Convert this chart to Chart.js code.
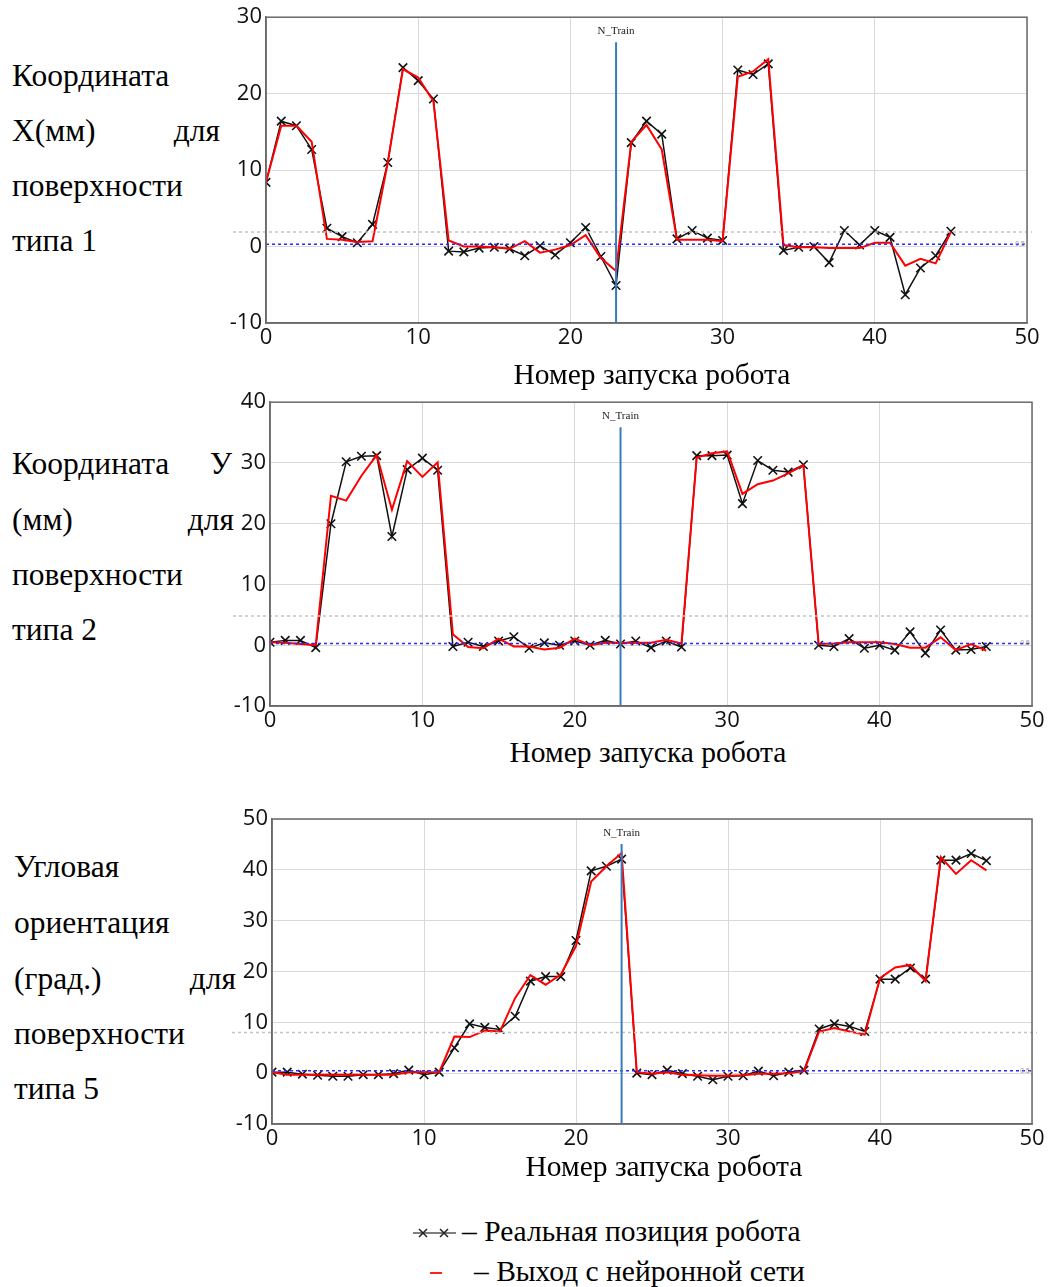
<!DOCTYPE html>
<html>
<head>
<meta charset="utf-8">
<script src="https://cdn.jsdelivr.net/npm/chart.js@4.4.1/dist/chart.umd.min.js"></script>
<style>
	body { margin:0; background:#fff; width:1057px; height:1287px; position:relative; overflow:hidden; }
	.txt { position:absolute; font-family:"Liberation Serif","Times New Roman",serif; font-size:29.5px; line-height:30px; color:#000; white-space:nowrap; }
	.lbl { font-size:31.5px; line-height:32px; }
	.just { display:flex; justify-content:space-between; }
	.ttl { text-align:center; width:400px; }
	canvas { position:absolute; }
</style>
</head>
<body>

<div class="txt lbl" style="left:12px;top:60px;">Координата</div>
<div class="txt lbl just" style="left:12px;top:115px;width:208px;"><span>X(мм)</span><span>для</span></div>
<div class="txt lbl" style="left:12px;top:170px;">поверхности</div>
<div class="txt lbl" style="left:12px;top:225px;">типа 1</div>

<div class="txt lbl just" style="left:12px;top:448px;width:220px;"><span>Координата</span><span>У</span></div>
<div class="txt lbl just" style="left:12px;top:504px;width:222px;"><span>(мм)</span><span>для</span></div>
<div class="txt lbl" style="left:12px;top:559px;">поверхности</div>
<div class="txt lbl" style="left:12px;top:614px;">типа 2</div>

<div class="txt lbl" style="left:14px;top:851px;">Угловая</div>
<div class="txt lbl" style="left:14px;top:907px;">ориентация</div>
<div class="txt lbl just" style="left:14px;top:963px;width:222px;"><span>(град.)</span><span>для</span></div>
<div class="txt lbl" style="left:14px;top:1018px;">поверхности</div>
<div class="txt lbl" style="left:14px;top:1073px;">типа 5</div>

<canvas id="chart1" style="left:216px;top:0px;" width="841" height="353"></canvas>
<canvas id="chart2" style="left:220px;top:385px;" width="837" height="351"></canvas>
<canvas id="chart3" style="left:222px;top:800px;" width="835" height="354"></canvas>

<div class="txt ttl" style="left:452px;top:359px;">Номер запуска робота</div>
<div class="txt ttl" style="left:448px;top:737px;">Номер запуска робота</div>
<div class="txt ttl" style="left:464px;top:1151px;">Номер запуска робота</div>

<svg style="position:absolute;left:410px;top:1224px;" width="50" height="18">
	<line x1="3" y1="9" x2="46" y2="9" stroke="#555" stroke-width="1.5"/>
	<path d="M9 5 L17 13 M17 5 L9 13 M30 5 L38 13 M38 5 L30 13" stroke="#222" stroke-width="1.5"/>
</svg>
<div class="txt" style="left:462px;top:1216px;">– Реальная позиция робота</div>
<svg style="position:absolute;left:426px;top:1264px;" width="20" height="18">
	<line x1="4" y1="9" x2="16" y2="9" stroke="#ff2020" stroke-width="2"/>
</svg>
<div class="txt" style="left:474px;top:1256px;">– Выход с нейронной сети</div>

<script>

// номер запуска, после которого начинается проверка
var nTrain = 23;

// координата X, поверхность типа 1
var realX = [8.4, 16.4, 15.8, 12.7, 2.4, 1.3, 0.5, 2.9, 11.0, 23.4, 21.7, 19.3, -0.6, -0.7, -0.2, -0.1, -0.3, -1.2, 0.1, -1.1, 0.5, 2.5, -1.3, -5.1,
	13.6, 16.4, 14.7, 1.0, 2.1, 1.1, 0.8, 23.1, 22.5, 23.9, -0.5, -0.1, 0.0, -2.1, 2.1, 0.2, 2.1, 1.2, -6.3, -2.8, -1.2, 2.0];
var netX = [8.4, 15.8, 15.8, 13.7, 1.0, 0.9, 0.6, 0.7, 11.0, 23.2, 22.1, 19.0, 0.8, 0.0, 0.0, -0.1, -0.3, 0.7, -0.8, -0.4, 0.2, 1.5, -1.5, -3.2,
	13.7, 15.9, 12.7, 0.9, 0.9, 0.9, 0.7, 22.2, 22.9, 24.5, 0.2, -0.1, -0.1, -0.2, -0.2, -0.2, 0.5, 0.5, -2.5, -1.6, -2.2, 1.9];

// координата У, поверхность типа 2
var realY = [0.5, 0.8, 0.8, -0.4, 20.0, 30.2, 31.1, 31.2, 17.9, 28.9, 30.8, 28.8, -0.2, 0.5, -0.2, 0.7, 1.4, -0.5, 0.4, 0.0, 0.7, 0.0, 0.8, 0.2,
	0.7, -0.4, 0.7, -0.3, 31.2, 31.2, 31.3, 23.3, 30.4, 28.8, 28.5, 29.7, 0.0, -0.2, 1.1, -0.5, 0.0, -0.8, 2.2, -1.3, 2.5, -0.8, -0.7, -0.2];
var netY = [0.5, 0.4, 0.2, 0.0, 24.6, 23.8, 27.9, 31.3, 22.3, 30.3, 27.7, 30.1, 1.8, -0.3, -0.5, 1.1, -0.2, -0.2, -0.7, -0.4, 1.1, 0.0, 0.4, 0.4,
	0.4, 0.4, 0.9, 0.3, 30.9, 31.6, 31.9, 24.9, 26.5, 27.1, 28.3, 29.6, 0.2, 0.3, 0.5, 0.5, 0.5, 0.2, -0.4, -0.4, 1.3, -0.8, 0.2, -0.9];

// угловая ориентация, поверхность типа 5
var realA = [0.2, 0.2, -0.2, -0.4, -0.6, -0.6, -0.3, -0.3, -0.1, 0.6, -0.3, 0.2, 5.0, 9.7, 9.0, 8.6, 11.2, 18.1, 19.0, 19.0, 26.1, 39.8, 40.7, 42.1,
	0.0, -0.3, 0.6, -0.1, -0.6, -1.3, -0.6, -0.5, 0.4, -0.5, 0.2, 0.6, 8.7, 9.7, 9.2, 8.2, 18.5, 18.5, 20.7, 18.5, 41.9, 41.9, 43.2, 41.8];
var netA = [0.2, -0.3, -0.3, -0.3, -0.3, -0.3, -0.3, -0.3, -0.3, 0.2, 0.2, 0.2, 7.2, 7.1, 8.4, 8.2, 14.8, 19.3, 17.4, 19.4, 25.0, 37.7, 40.7, 43.3,
	0.2, -0.1, 0.2, -0.3, -0.4, -0.5, -0.5, -0.4, -0.1, -0.1, 0.0, 0.4, 8.2, 8.9, 8.2, 7.6, 18.7, 20.8, 21.3, 18.1, 42.5, 39.2, 41.9, 39.9];

// пределы осей и пунктирные уровни: [ymin, ymax, серый, синий]
var axisX = [-10, 30, 1.9, 0.3];
var axisY = [-10, 40, 4.8, 0.3];
var axisA = [-10, 50, 8.0, 0.5];


function toPoints(arr){
	return arr.map(function(v, i){ return { x: i, y: v }; });
}

var frameLines = {
	id: 'frameLines',
	afterDatasetsDraw: function(chart, args, opts){
		var ctx = chart.ctx;
		var a = chart.chartArea;
		var xs = chart.scales.x, ys = chart.scales.y;
		ctx.save();

		// серая пунктирная линия
		var yg = ys.getPixelForValue(opts.grey);
		ctx.strokeStyle = '#c4c4c4';
		ctx.lineWidth = 1.5;
		ctx.setLineDash([3, 3]);
		ctx.beginPath(); ctx.moveTo(opts.greyFrom, yg); ctx.lineTo(opts.greyTo, yg); ctx.stroke();

		// синяя пунктирная линия
		var yb = ys.getPixelForValue(opts.blue);
		ctx.strokeStyle = '#2a2aff';
		ctx.beginPath(); ctx.moveTo(a.left, yb); ctx.lineTo(a.right, yb); ctx.stroke();
		ctx.setLineDash([]);
		ctx.fillStyle = '#999';
		ctx.font = '7px "Liberation Sans"';
		ctx.textAlign = 'right';
		ctx.textBaseline = 'middle';
		ctx.fillText('0.5', a.right - 2, yb);

		// N_Train
		var xn = xs.getPixelForValue(opts.train);
		ctx.strokeStyle = '#3a7bbf';
		ctx.lineWidth = 2;
		ctx.beginPath(); ctx.moveTo(xn, a.top + 25); ctx.lineTo(xn, a.bottom); ctx.stroke();
		ctx.fillStyle = '#222';
		ctx.font = '11px "Liberation Serif"';
		ctx.textAlign = 'center';
		ctx.fillText('N_Train', xn, a.top + 14);

		// рамка
		ctx.strokeStyle = '#6a6a6a';
		ctx.lineWidth = 1.5;
		ctx.strokeRect(a.left, a.top, a.right - a.left, a.bottom - a.top);
		ctx.restore();
	}
};

function make_chart(id, real, net, lim, padTop, padRight, greyFrom, greyTo){

	if( typeof (Chart) === 'undefined'){ return; }

	var settings = {
		type: 'line',
		data: {
			datasets: [{
				label: 'Выход с нейронной сети',
				data: toPoints(net),
				borderColor: '#ff0000',
				borderWidth: 2,
				pointRadius: 0,
				tension: 0,
				order: 0
			}, {
				label: 'Реальная позиция робота',
				data: toPoints(real),
				borderColor: '#111111',
				borderWidth: 1.5,
				pointStyle: 'crossRot',
				pointRadius: 6,
				pointBorderWidth: 1.6,
				pointBorderColor: '#111111',
				tension: 0,
				order: 1
			}]
		},
		options: {
			responsive: false,
			animation: false,
			layout: { padding: { top: padTop, right: padRight, left: 0, bottom: 0 } },
			plugins: {
				legend: { display: false },
				tooltip: { enabled: false },
				frameLines: { grey: lim[2], blue: lim[3], train: nTrain, greyFrom: greyFrom, greyTo: greyTo }
			},
			scales: {
				x: {
					type: 'linear', min: 0, max: 50,
					ticks: { stepSize: 10, padding: 2, color: '#111', font: { family: '"Open Sans"', size: 22 } },
					grid: { color: '#d9d9d9', drawTicks: false },
					border: { color: '#6a6a6a', width: 1.5 },
					afterFit: function(s){ s.height = 30; }
				},
				y: {
					min: lim[0], max: lim[1],
					ticks: { stepSize: 10, padding: 4, color: '#111', font: { family: '"Open Sans"', size: 22 } },
					grid: { color: '#d9d9d9', drawTicks: false },
					border: { color: '#6a6a6a', width: 1.5 },
					afterFit: function(s){ s.width = 50; }
				}
			}
		},
		plugins: [frameLines]
	};

	new Chart(document.getElementById(id), settings);
}

make_chart('chart1', realX, netX, axisX, 17, 30, 17, 816);
make_chart('chart2', realY, netY, axisY, 17, 25, 13, 812);
make_chart('chart3', realA, netA, axisA, 19, 25, 10, 815);

</script>
</body>
</html>
